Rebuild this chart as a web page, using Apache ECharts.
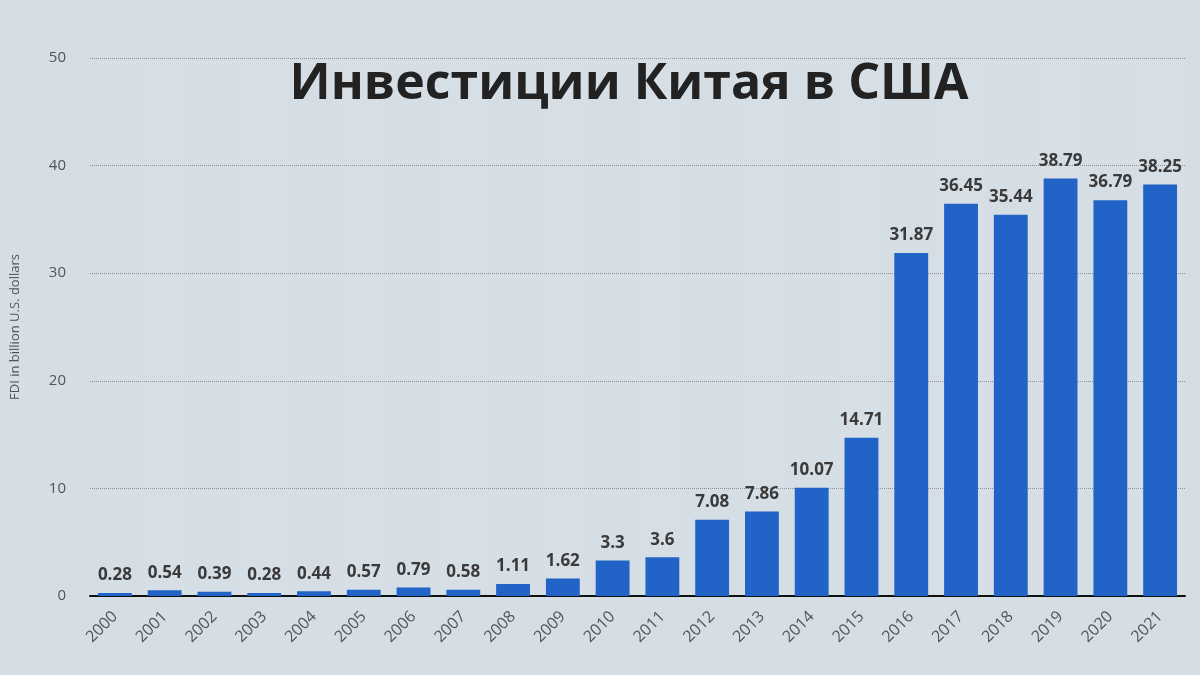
<!DOCTYPE html>
<html><head><meta charset="utf-8">
<script src="https://cdn.jsdelivr.net/npm/echarts@6/dist/echarts.min.js"></script>
<style>html,body{margin:0;padding:0;background:#d5dde5;}#c{width:1200px;height:675px;}</style>
</head><body><div id="c"></div>
<script>
const years = ['2000','2001','2002','2003','2004','2005','2006','2007','2008','2009','2010','2011','2012','2013','2014','2015','2016','2017','2018','2019','2020','2021'];
const fdi = [0.28,0.54,0.39,0.28,0.44,0.57,0.79,0.58,1.11,1.62,3.3,3.6,7.08,7.86,10.07,14.71,31.87,36.45,35.44,38.79,36.79,38.25];
const chart = echarts.init(document.getElementById('c'));
chart.setOption({
  backgroundColor:'#d5dde5',
  title:{text:'Инвестиции Китая в США',left:624,top:55,textAlign:'center',
    textStyle:{fontFamily:'Open Sans',fontWeight:'bold',fontSize:50,color:'#222'}},
  grid:{left:90,right:15,top:58,bottom:79},
  xAxis:{type:'category',data:years,
    axisLine:{lineStyle:{color:'#111',width:2}},axisTick:{show:false},
    splitArea:{show:true,areaStyle:{color:['rgba(255,255,255,0)','rgba(255,255,255,0.06)']}},
    axisLabel:{rotate:45,color:'#555',fontFamily:'Open Sans',fontSize:16,margin:18}},
  yAxis:{type:'value',min:0,max:50,interval:10,
    name:'FDI in billion U.S. dollars',nameLocation:'middle',nameGap:68,
    nameTextStyle:{color:'#555',fontFamily:'Open Sans',fontSize:13},
    axisLine:{show:false},axisTick:{show:false},
    axisLabel:{color:'#555',fontFamily:'Open Sans',fontSize:15,margin:24},
    splitLine:{lineStyle:{type:'dotted',color:'#8a8f95'}}},
  series:[{type:'bar',data:fdi,barCategoryGap:'32%',itemStyle:{color:'#2163c6'},
    label:{show:true,position:'top',distance:9,color:'#3a3a3a',fontFamily:'Open Sans',fontWeight:'bold',fontSize:17}}]
});
</script></body></html>
